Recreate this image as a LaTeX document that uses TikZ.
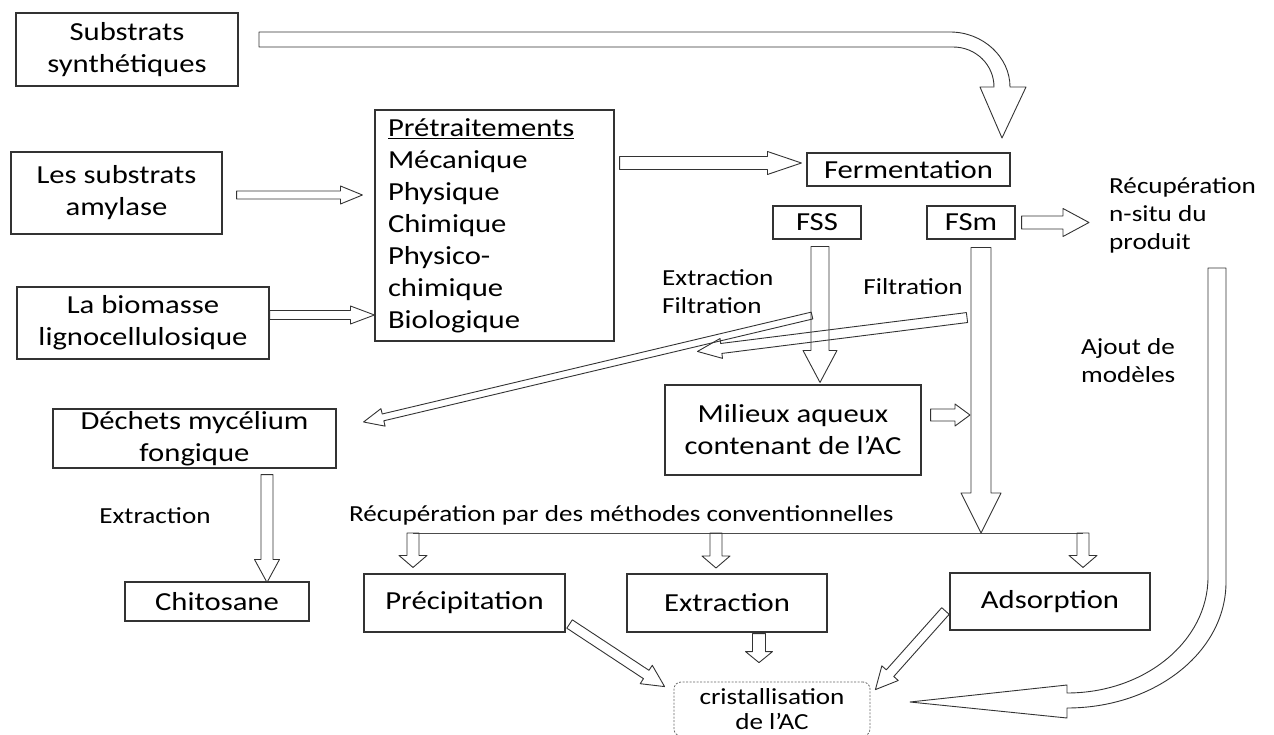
\documentclass[tikz,border=0pt]{standalone}
\usepackage{fontspec}
\setmainfont{Carlito}[FakeStretch=1.18]
\usetikzlibrary{calc}

\newcommand{\boxfnt}{\fontsize{26}{32}\selectfont}
\newcommand{\labfnt}{\fontsize{23}{28}\selectfont}
% hollow block arrow: start, tip, shaft half width, head half width, head length
\newcommand{\blockarrow}[5]{%
    \coordinate (ba-s) at #1;
    \coordinate (ba-e) at #2;
    \coordinate (ba-b) at ($(ba-e)!#5!(ba-s)$);
    \draw[barrow] ($(ba-s)!#3!90:(ba-e)$) -- ($(ba-b)!#3!90:(ba-e)$) -- ($(ba-b)!#4!90:(ba-e)$)
        -- (ba-e) -- ($(ba-b)!#4!-90:(ba-e)$) -- ($(ba-b)!#3!-90:(ba-e)$) -- ($(ba-s)!#3!-90:(ba-e)$) -- cycle;
}

\begin{document}
\begin{tikzpicture}[x=1pt, y=-1pt,
    box/.style={draw=black!80, line width=1.1pt, inner sep=0pt, align=center, font=\boxfnt},
    lab/.style={inner sep=0pt, align=left, font=\labfnt},
    barrow/.style={draw=black!80, line width=0.9pt, line join=round}]
    \useasboundingbox (0,0) rectangle (1274,735);

    % Boxes
    \node[box, minimum width=222pt, minimum height=73pt] (synth) at (127,49.5) {Substrats\\synthétiques};
    \node[box, minimum width=211pt, minimum height=82pt] (amyl) at (116.5,193) {Les substrats\\amylase};
    \node[box, minimum width=252pt, minimum height=72pt] (biomasse) at (143,323) {La biomasse\\lignocellulosique};
    \node[box, align=left, text width=213pt, inner xsep=13pt, minimum height=231pt] (pretr) at (494.5,225.5)
        {\underline{Prétraitements}\\Mécanique\\Physique\\Chimique\\Physico-\\chimique\\Biologique};
    \node[box, minimum width=203pt, minimum height=33pt] (ferm) at (908.5,169.5) {Fermentation};
    \node[box, minimum width=88pt, minimum height=33pt] (fss) at (817,222.5) {FSS};
    \node[box, minimum width=88pt, minimum height=33pt] (fsm) at (971,222.5) {FSm};
    \node[box, minimum width=256pt, minimum height=90pt] (milieux) at (793,430) {Milieux aqueux\\contenant de l’AC};
    \node[box, minimum width=283pt, minimum height=59pt] (dechets) at (194.5,438.5) {Déchets mycélium\\fongique};
    \node[box, minimum width=184pt, minimum height=39pt] (chito) at (217,601.5) {Chitosane};
    \node[box, minimum width=201pt, minimum height=58pt] (precip) at (464.5,603) {Précipitation};
    \node[box, minimum width=200pt, minimum height=58pt] (extr) at (727,603) {Extraction};
    \node[box, minimum width=200pt, minimum height=57pt] (adso) at (1050,601.5) {Adsorption};
    \node[box, font=\fontsize{23}{25}\selectfont, draw=black!60, line width=0.8pt, dash pattern=on 2pt off 1.5pt,
        rounded corners=7pt, minimum width=196pt, minimum height=54pt] (crist) at (772,709) {cristallisation\\de l’AC};

    % Labels
    \node[lab, anchor=west] (lextrfil) at (662,292) {Extraction\\Filtration};
    \node[lab] (lfilt) at (913,287) {Filtration};
    \node[lab, anchor=west] (recup) at (1109,215) {Récupération\\n-situ du\\produit};
    \node[lab, anchor=west] (lajout) at (1081,361) {Ajout de\\modèles};
    \node[lab] (lextr) at (155,516) {Extraction};
    \node[lab, anchor=west] (lconv) at (349,515) {Récupération par des méthodes conventionnelles};

    % Line of the conventional methods
    \coordinate (convl) at (413,533);
    \coordinate (convr) at (1083,533);
    \draw[black!70, line width=0.8pt] (convl) -- (convr);

    % Arrows
    \blockarrow{($(amyl.east)+(14,2)$)}{($(pretr.west|-amyl.east)+(-12,2)$)}{4pt}{9pt}{22pt}
    \blockarrow{($(biomasse.east)+(0,-8)$)}{($(pretr.west|-biomasse.east)+(0,-8)$)}{4.5pt}{9pt}{24pt}
    \blockarrow{($(pretr.east|-ferm.west)+(5,-6.5)$)}{($(ferm.west)+(-5,-6.5)$)}{6.5pt}{11.5pt}{34pt}
    \blockarrow{($(fsm.east)+(6,0)$)}{($(recup.west|-fsm.east)+(-20,0)$)}{6.5pt}{14pt}{26pt}
    \blockarrow{($(fss.south)+(3,7)$)}{($(fss.south|-milieux.north)+(3,-2)$)}{9pt}{17pt}{32pt}
    \blockarrow{($(fsm.south)+(10,8)$)}{($(fsm.south|-convr)+(10,0)$)}{10pt}{20pt}{40pt}
    \blockarrow{($(milieux.east)+(9,-15)$)}{($(fsm.south|-milieux.east)+(-1,-15)$)}{6pt}{11pt}{15pt}
    \blockarrow{($(dechets.south-|chito.north)+(50,6)$)}{($(chito.north)+(50,1)$)}{6pt}{12.5pt}{23pt}
    \blockarrow{(convl)}{($(convl|-precip.north)+(0,-6)$)}{6pt}{14pt}{12pt}
    \blockarrow{($(convl-|extr.north)+(-11,0)$)}{($(convl-|extr.north)+(-11,35)$)}{6pt}{14pt}{12pt}
    \blockarrow{(convr)}{($(convr|-adso.north)+(0,-5)$)}{6pt}{14pt}{12pt}
    \blockarrow{($(extr.south)+(32,1)$)}{($(extr.south|-crist.north)+(32,-19)$)}{6.5pt}{13.5pt}{11pt}
    \blockarrow{($(precip.east)+(4,21)$)}{($(crist.north west)+(-9,5)$)}{5pt}{11pt}{22pt}
    \blockarrow{($(adso.west)+(-4,9.5)$)}{($(crist.north east)+(5,8)$)}{5pt}{11pt}{22pt}
    \blockarrow{($(fss.south)+(-5,76)$)}{($(dechets.east)+(27,-16.5)$)}{3.5pt}{9pt}{20pt}
    \coordinate (filtend) at ($(milieux.north west)+(33,-33)$);
    \blockarrow{($(fsm.south)+(-4,78)$)}{(filtend)}{5pt}{10pt}{24pt}

    % Curved arrows
    \draw[barrow] (259,32) -- (950,32) .. controls (983,32) and (1010,57) .. (1010,87) -- (1026,87) -- (1002,138)
        -- (980,87) -- (994,87) .. controls (994,65) and (976,47) .. (953,47) -- (259,47) -- cycle;
    \draw[barrow] (1208,268) -- (1226,268) -- (1226,582) .. controls (1226,652) and (1155,708) .. (1067,708)
        -- (1067,718) -- (910,702) -- (1067,685) -- (1067,693) .. controls (1145,693) and (1208,641) .. (1208,577) -- cycle;
\end{tikzpicture}
\end{document}
